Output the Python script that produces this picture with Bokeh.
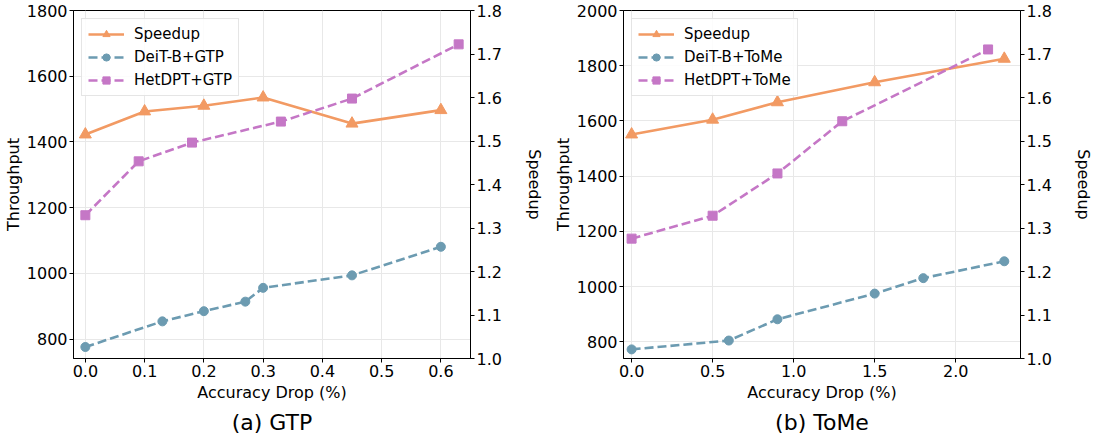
import math
from bokeh.plotting import figure
from bokeh.models import (Range1d, LinearAxis, FixedTicker, PrintfTickFormatter,
                          Title, Legend, LegendItem)
from bokeh.layouts import row
from bokeh.embed import file_html
from bokeh.resources import INLINE

FONT = "DejaVu Sans"
ORANGE = "#F29A63"
BLUE = "#6C9BB1"
PURPLE = "#C577C6"

# ---- (a) GTP ----
gtp_speed_x = [0.0, 0.1, 0.2, 0.3, 0.45, 0.6]
gtp_speed_y = [1.515, 1.568, 1.581, 1.600, 1.540, 1.571]
gtp_deit_x = [0.0, 0.13, 0.2, 0.27, 0.3, 0.45, 0.6]
gtp_deit_y = [776, 854, 885, 914, 956, 994, 1081]
gtp_het_x = [0.0, 0.09, 0.18, 0.33, 0.45, 0.63]
gtp_het_y = [1177, 1341, 1398, 1462, 1532, 1697]
gtp_xticks = [0.0, 0.1, 0.2, 0.3, 0.4, 0.5, 0.6]
gtp_yticks = [800, 1000, 1200, 1400, 1600, 1800]

# ---- (b) ToMe ----
tome_speed_x = [0.0, 0.5, 0.9, 1.5, 2.3]
tome_speed_y = [1.515, 1.549, 1.589, 1.635, 1.689]
tome_deit_x = [0.0, 0.6, 0.9, 1.5, 1.8, 2.3]
tome_deit_y = [773, 805, 882, 975, 1031, 1092]
tome_het_x = [0.0, 0.5, 0.9, 1.3, 2.2]
tome_het_y = [1174, 1257, 1410, 1599, 1859]
tome_xticks = [0.0, 0.5, 1.0, 1.5, 2.0]
tome_yticks = [800, 1000, 1200, 1400, 1600, 1800, 2000]

speed_ticks = [1.0, 1.1, 1.2, 1.3, 1.4, 1.5, 1.6, 1.7, 1.8]


def style_axis(ax, fmt):
    ax.major_label_text_font = FONT
    ax.major_label_text_font_size = "16px"
    ax.major_label_text_color = "#000000"
    ax.axis_label_text_font = FONT
    ax.axis_label_text_font_size = "16px"
    ax.axis_label_text_font_style = "normal"
    ax.axis_label_text_color = "#000000"
    ax.axis_line_color = "#000000"
    ax.major_tick_line_color = "#000000"
    ax.major_tick_out = 4
    ax.major_tick_in = 0
    ax.minor_tick_line_color = None
    ax.major_label_standoff = 2
    ax.formatter = PrintfTickFormatter(format=fmt)


def make_panel(xr, yr, xticks, yticks, sx, sy, dx, dy, hx, hy,
               deit_label, het_label, caption, ml, mr, rstand):
    p = figure(frame_width=397, frame_height=348,
               x_range=Range1d(*xr), y_range=Range1d(*yr),
               output_backend="svg", toolbar_location=None,
               min_border_left=ml, min_border_right=mr, min_border_top=10,
               min_border_bottom=2)
    p.extra_y_ranges = {"speed": Range1d(1.0, 1.8)}
    p.outline_line_color = "#000000"
    p.outline_line_width = 1
    p.background_fill_color = "white"
    p.border_fill_color = "white"

    p.xaxis.ticker = FixedTicker(ticks=xticks)
    p.yaxis.ticker = FixedTicker(ticks=yticks)
    style_axis(p.xaxis[0], "%.1f")
    style_axis(p.yaxis[0], "%d")
    p.xaxis.axis_label = "Accuracy Drop (%)"
    p.yaxis.axis_label = "Throughput"
    p.xaxis.axis_label_standoff = 3
    p.yaxis.axis_label_standoff = 1

    rax = LinearAxis(y_range_name="speed", ticker=FixedTicker(ticks=speed_ticks),
                     axis_label="Speedup")
    style_axis(rax, "%.1f")
    rax.axis_label_standoff = rstand
    rax.axis_label_orientation = "vertical"
    p.add_layout(rax, "right")

    p.xgrid.grid_line_color = "#e8e8e8"
    p.ygrid.grid_line_color = "#e8e8e8"
    p.xgrid.ticker = FixedTicker(ticks=xticks)
    p.ygrid.ticker = FixedTicker(ticks=yticks)

    l1 = p.line(sx, sy, y_range_name="speed", color=ORANGE, line_width=2.6)
    m1 = p.scatter(sx, sy, y_range_name="speed", marker="triangle", size=12,
                   color=ORANGE)
    l2 = p.line(dx, dy, color=BLUE, line_width=2.6, line_dash="9 4")
    m2 = p.scatter(dx, dy, marker="circle", size=9, color=BLUE)
    l3 = p.line(hx, hy, color=PURPLE, line_width=2.6, line_dash="9 4")
    m3 = p.scatter(hx, hy, marker="square", size=9, color=PURPLE)

    leg = Legend(items=[
        LegendItem(label="Speedup", renderers=[l1, m1]),
        LegendItem(label=deit_label, renderers=[l2, m2]),
        LegendItem(label=het_label, renderers=[l3, m3]),
    ], location="top_left")
    leg.label_text_font = FONT
    leg.label_text_font_size = "15px"
    leg.label_text_color = "#000000"
    leg.border_line_color = "#cccccc"
    leg.border_line_width = 1
    leg.background_fill_alpha = 0.85
    leg.glyph_width = 36
    leg.glyph_height = 18
    leg.label_height = 18
    leg.spacing = 5
    leg.padding = 6
    leg.margin = 8
    leg.label_standoff = 10
    p.add_layout(leg)

    cap = Title(text=caption, align="center", text_font=FONT,
                text_font_size="22px", text_font_style="normal",
                text_color="#000000", standoff=6)
    p.add_layout(cap, "below")
    return p


pa = make_panel((-0.02, 0.65), (741, 1800), gtp_xticks, gtp_yticks,
                gtp_speed_x, gtp_speed_y, gtp_deit_x, gtp_deit_y,
                gtp_het_x, gtp_het_y, "DeiT-B+GTP", "HetDPT+GTP", "(a) GTP",
                73, 80, 20)
pb = make_panel((-0.05, 2.4), (740, 2000), tome_xticks, tome_yticks,
                tome_speed_x, tome_speed_y, tome_deit_x, tome_deit_y,
                tome_het_x, tome_het_y, "DeiT-B+ToMe", "HetDPT+ToMe", "(b) ToMe",
                72, 70, 19)

layout = row(pa, pb)
open("out.html", "w").write(file_html(layout, INLINE))
